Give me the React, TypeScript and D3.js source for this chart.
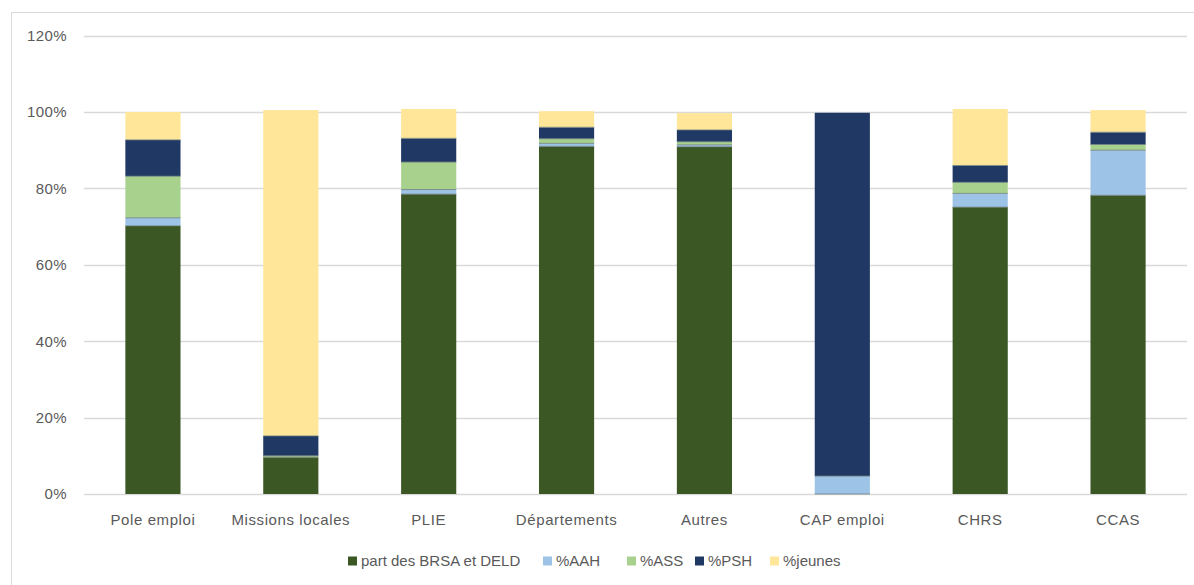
import React from "react";
import * as d3 from "d3";

const categories = ["Pole emploi", "Missions locales", "PLIE", "Départements", "Autres", "CAP emploi", "CHRS", "CCAS"];
const seriesNames = ["part des BRSA et DELD", "%AAH", "%ASS", "%PSH", "%jeunes"];
const seriesColors = ["#3A5724", "#9DC3E6", "#A9D18E", "#203864", "#FFE699"];
const brsaDeld = [70.2, 9.6, 78.5, 91.0, 90.9, 0, 75.1, 78.2];
const aah = [2.1, 0, 1.2, 0.8, 0.5, 4.7, 3.6, 11.8];
const ass = [10.9, 0.4, 7.2, 1.2, 0.8, 0, 2.9, 1.5];
const psh = [9.5, 5.2, 6.2, 3.0, 3.1, 95.1, 4.4, 3.2];
const jeunes = [7.3, 85.3, 7.7, 4.2, 4.4, 0, 14.8, 5.8];
const yTicks = [0, 20, 40, 60, 80, 100, 120];

const W = 1194;
const H = 585;
const font = "'Liberation Sans', Arial, sans-serif";
const textColor = "#595959";

export default function App() {
  const values = [brsaDeld, aah, ass, psh, jeunes];
  const rows = categories.map((c, i) => {
    const r: any = { cat: c };
    seriesNames.forEach((s, j) => (r[s] = values[j][i]));
    return r;
  });
  const stacked = d3.stack<any>().keys(seriesNames)(rows);

  const x = d3.scaleBand().domain(categories).range([84, 1187]).paddingInner(0.6).paddingOuter(0.3);
  const y = d3.scaleLinear().domain([0, 120]).range([494, 35.6]);

  const legendX = [348, 543, 627, 695, 770];

  return (
    <svg width={W} height={H} style={{ position: "absolute", left: 0, top: 0, background: "#fff" }}>
      <rect x={11.5} y={12.5} width={W + 20} height={H + 20} fill="none" stroke="#D9D9D9" strokeWidth={1} />
      {yTicks.map((t) => (
        <g key={t}>
          <line x1={84} x2={1187} y1={Math.round(y(t)) + 0.5} y2={Math.round(y(t)) + 0.5} stroke="#D9D9D9" strokeWidth={1.3} />
          <text x={67} y={y(t)} dy="0.36em" textAnchor="end" fontFamily={font} fontSize={15} fill={textColor} letterSpacing={0.4}>
            {t}%
          </text>
        </g>
      ))}
      {stacked.map((layer, j) => (
        <g key={layer.key} fill={seriesColors[j]}>
          {layer.map((d, i) =>
            d[1] - d[0] > 0 ? (
              <rect key={i} x={x(categories[i])} width={x.bandwidth()} y={y(d[1])} height={y(d[0]) - y(d[1])} />
            ) : null
          )}
        </g>
      ))}
      {stacked.map((layer, j) => (
        <g key={"sep" + layer.key}>
          {layer.map((d, i) =>
            d[1] - d[0] > 0 && j > 0 ? (
              <line key={i} x1={x(categories[i])} x2={(x(categories[i]) as number) + x.bandwidth()} y1={y(d[0])} y2={y(d[0])} stroke="#6E7F80" strokeWidth={1} strokeOpacity={0.8} />
            ) : null
          )}
        </g>
      ))}
      {categories.map((c) => (
        <text key={c} x={(x(c) as number) + x.bandwidth() / 2} y={520} dy="0.36em" textAnchor="middle" fontFamily={font} fontSize={15} fill={textColor} letterSpacing={0.6}>
          {c}
        </text>
      ))}
      {seriesNames.map((s, j) => (
        <g key={s}>
          <rect x={legendX[j]} y={556.5} width={9} height={9} fill={seriesColors[j]} />
          <text x={legendX[j] + 13} y={561} dy="0.36em" fontFamily={font} fontSize={15} fill={textColor} letterSpacing={0}>
            {s}
          </text>
        </g>
      ))}
    </svg>
  );
}
